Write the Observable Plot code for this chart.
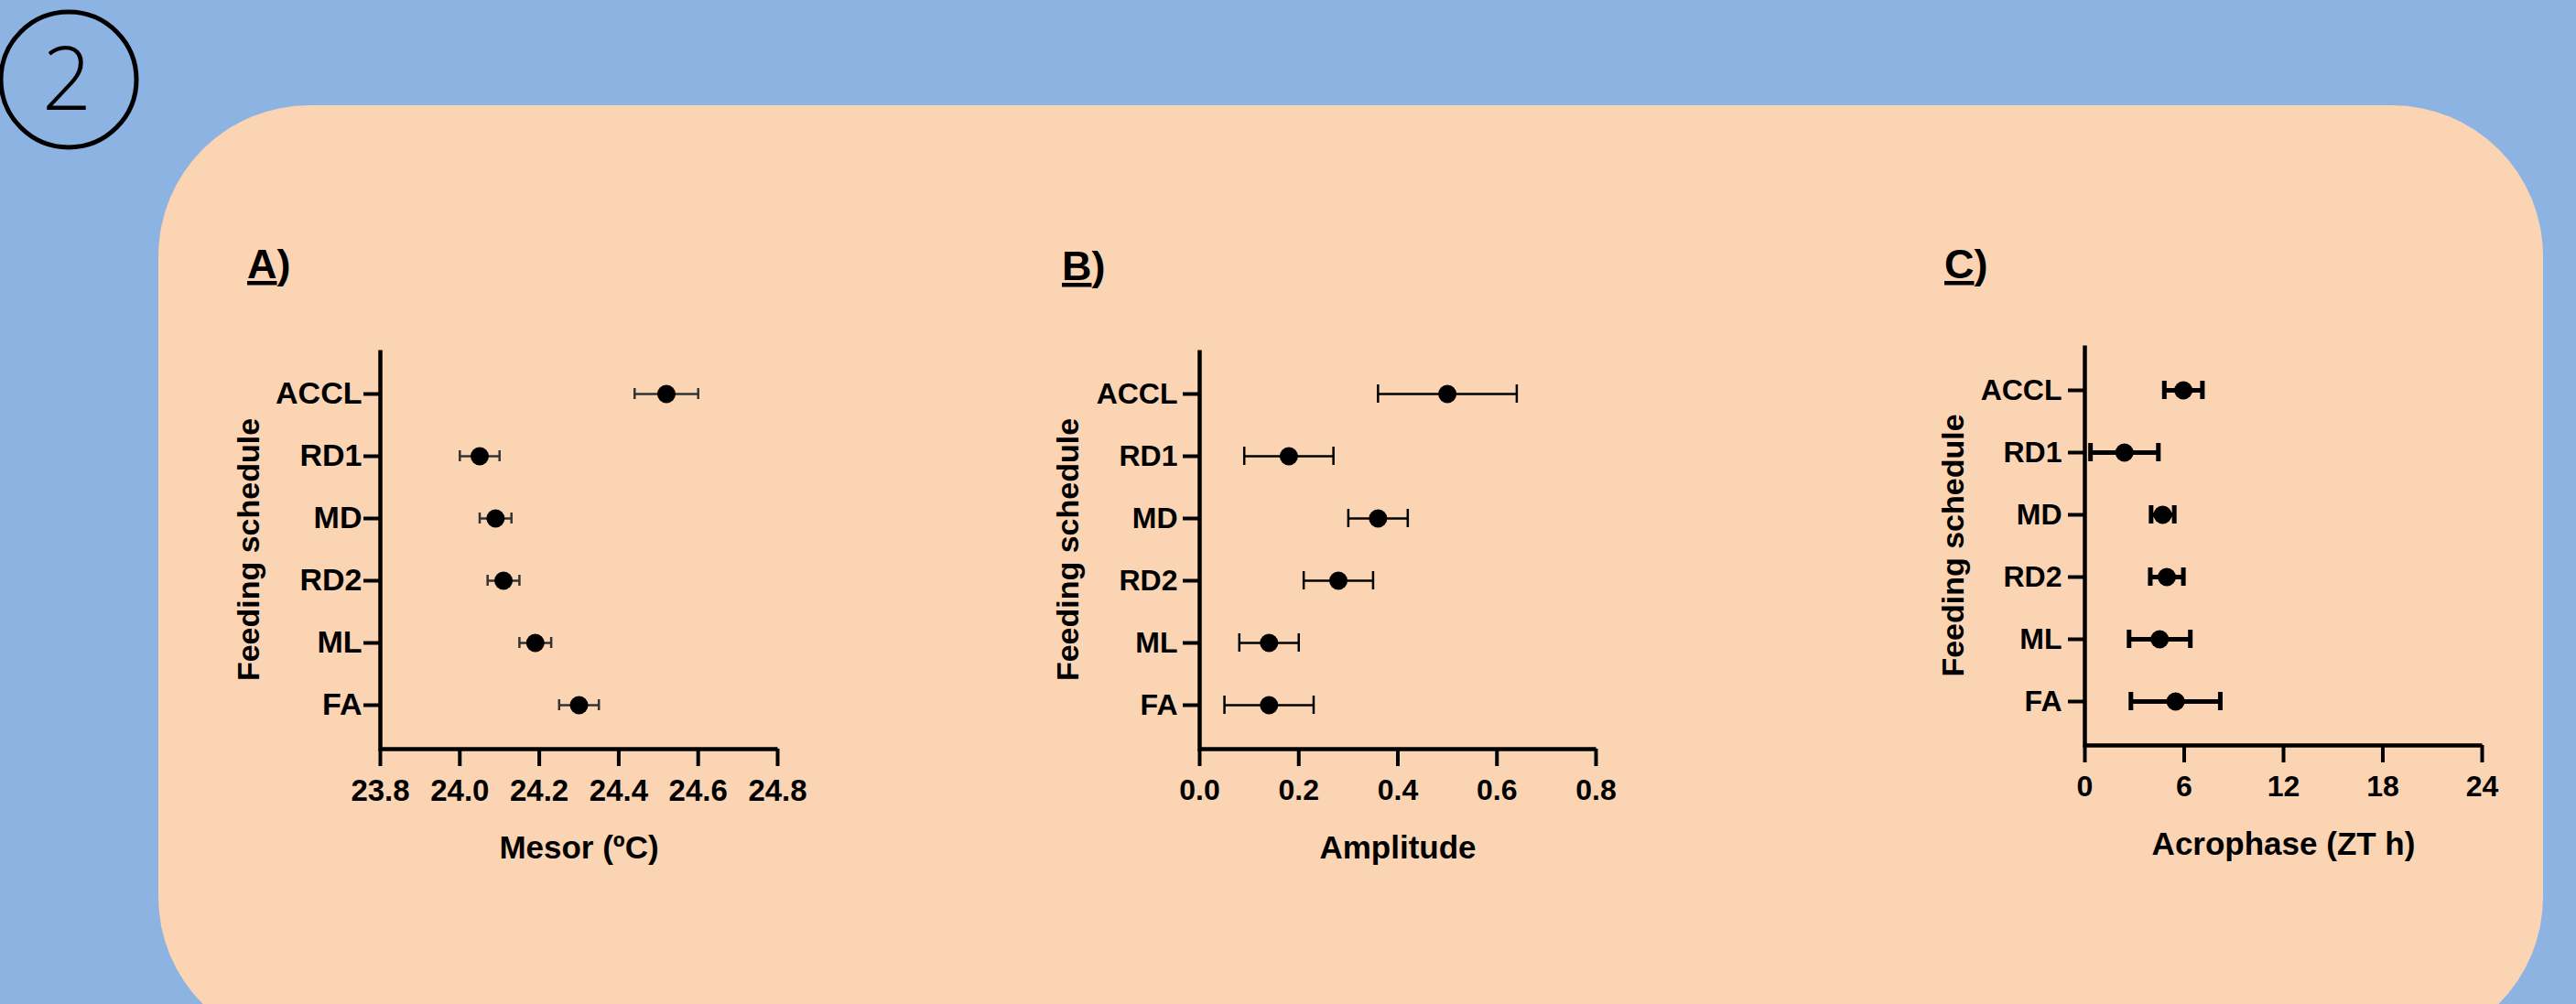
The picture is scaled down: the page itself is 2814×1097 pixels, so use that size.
<!DOCTYPE html>
<html>
<head>
<meta charset="utf-8">
<script src="https://cdn.jsdelivr.net/npm/d3@7"></script>
<script src="https://cdn.jsdelivr.net/npm/@observablehq/plot@0.6"></script>
<style>
  html, body { margin: 0; padding: 0; }
  body { width: 2814px; height: 1097px; background: #8db3e2; position: relative; overflow: hidden;
         font-family: "Liberation Sans", Arial, sans-serif; }
  .panel { position: absolute; }
  #deco { position: absolute; left: 0; top: 0; }
</style>
</head>
<body>
<svg id="deco" width="2814" height="1097">
  <rect x="173" y="115" width="2605" height="1030" rx="165" ry="165" fill="#fbd4b4"></rect>
  <circle cx="75" cy="87" r="74" fill="none" stroke="#000" stroke-width="5"></circle>
  <text x="73" y="120" text-anchor="middle" font-family="Open Sans, sans-serif" font-weight="300" font-size="95" fill="#000">2</text>
  <text x="270" y="304" font-family="Liberation Sans, Arial, sans-serif" font-weight="bold" font-size="45" fill="#000"><tspan text-decoration="underline">A</tspan>)</text>
  <text x="1160" y="306" font-family="Liberation Sans, Arial, sans-serif" font-weight="bold" font-size="45" fill="#000"><tspan text-decoration="underline">B</tspan>)</text>
  <text x="2124" y="304" font-family="Liberation Sans, Arial, sans-serif" font-weight="bold" font-size="45" fill="#000"><tspan text-decoration="underline">C</tspan>)</text>
</svg>
<script>
// ---- data ----
const groups = ["ACCL", "RD1", "MD", "RD2", "ML", "FA"];
const mesor = [24.52, 24.05, 24.09, 24.11, 24.19, 24.30];
const mesorErr = [0.08, 0.05, 0.04, 0.04, 0.04, 0.05];
const amplitude = [0.50, 0.18, 0.36, 0.28, 0.14, 0.14];
const amplitudeErr = [0.14, 0.09, 0.06, 0.07, 0.06, 0.09];
const acrophase = [5.95, 2.39, 4.70, 4.95, 4.52, 5.48];
const acrophaseErr = [1.15, 2.05, 0.70, 1.00, 1.85, 2.70];
const mesorTicks = [23.8, 24.0, 24.2, 24.4, 24.6, 24.8];
const amplitudeTicks = [0.0, 0.2, 0.4, 0.6, 0.8];
const acrophaseTicks = [0, 6, 12, 18, 24];
const yTitle = "Feeding schedule";

const ML = 200, MT = 50, MR = 80, MB = 150;

function panel(cfg) {
  const data = groups.map((g, i) => ({g, v: cfg.values[i], e: cfg.errs[i]}));
  const W = cfg.W, H = cfg.H;
  const plot = Plot.plot({
    width: ML + W + MR,
    height: MT + H + MB,
    marginLeft: ML, marginRight: MR, marginTop: MT, marginBottom: MB,
    style: {background: "transparent", fontFamily: "Liberation Sans, Arial, sans-serif", color: "#000", overflow: "visible"},
    x: {domain: cfg.domain, axis: null},
    y: {type: "band", domain: groups, paddingInner: 0, paddingOuter: cfg.pad, axis: null},
    marks: [
      Plot.frame({stroke: "#000", strokeWidth: 4.5, strokeDasharray: `0 ${W + H} ${W + H}`}),
      Plot.axisX(cfg.ticks, {tickSize: 19, tickPadding: 14, strokeWidth: 4, fontSize: cfg.tickFont, fontWeight: "bold",
        tickFormat: cfg.fmt, label: null}),
      Plot.axisY({tickSize: 18, tickPadding: cfg.ypad, strokeWidth: 4, fontSize: cfg.catFont, fontWeight: "bold", label: null}),
      Plot.ruleY(data, {y: "g", x1: d => d.v - d.e, x2: d => d.v + d.e, stroke: cfg.barColor, strokeWidth: cfg.barWidth}),
      Plot.tickX(data, {y: "g", x: d => d.v - d.e, insetTop: cfg.capInset, insetBottom: cfg.capInset, stroke: cfg.barColor, strokeWidth: cfg.barWidth}),
      Plot.tickX(data, {y: "g", x: d => d.v + d.e, insetTop: cfg.capInset, insetBottom: cfg.capInset, stroke: cfg.barColor, strokeWidth: cfg.barWidth}),
      Plot.dot(data, {y: "g", x: "v", r: 10, fill: "#000", stroke: "none"}),
      Plot.text([cfg.xlabel], {frameAnchor: "bottom", dy: 119, lineAnchor: "bottom", fontSize: 35, fontWeight: "bold", fill: "#000"}),
      Plot.text([yTitle], {frameAnchor: "left", textAnchor: "middle", lineAnchor: "middle", dx: -143, rotate: -90, fontSize: 34, fontWeight: "bold", fill: "#000"})
    ]
  });
  const div = document.createElement("div");
  div.className = "panel";
  div.style.left = (cfg.L - ML) + "px";
  div.style.top = (cfg.T - MT) + "px";
  div.appendChild(plot);
  document.body.appendChild(div);
}

panel({values: mesor, errs: mesorErr, domain: [23.8, 24.8], ticks: mesorTicks, fmt: d3.format(".1f"),
  xlabel: "Mesor (ºC)", L: 415, T: 382, W: 434, H: 436, pad: 0.18, tickFont: 33, catFont: 34, ypad: 2,
  barColor: "#333", barWidth: 2.5, capInset: 28});
panel({values: amplitude, errs: amplitudeErr, domain: [0, 0.8], ticks: amplitudeTicks, fmt: d3.format(".1f"),
  xlabel: "Amplitude", L: 1310, T: 382, W: 433, H: 436, pad: 0.18, tickFont: 32, catFont: 32, ypad: 6,
  barColor: "#000", barWidth: 2.5, capInset: 24});
panel({values: acrophase, errs: acrophaseErr, domain: [0, 24], ticks: acrophaseTicks, fmt: d3.format("d"),
  xlabel: "Acrophase (ZT h)", L: 2277, T: 377, W: 434, H: 437, pad: 0.2, tickFont: 32, catFont: 32, ypad: 7,
  barColor: "#000", barWidth: 5, capInset: 24});
</script>
</body>
</html>
